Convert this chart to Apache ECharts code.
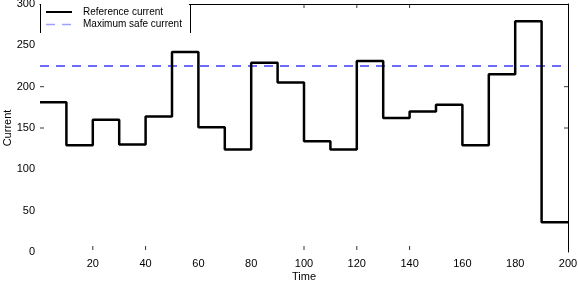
<!DOCTYPE html>
<html>
<head>
<meta charset="utf-8">
<script src="https://cdn.jsdelivr.net/npm/echarts@6/dist/echarts.min.js"></script>
<style>
html,body{margin:0;padding:0;background:#fff;}
#c{width:578px;height:284px;}
</style>
</head>
<body>
<div id="c"></div>
<script>
// Data
var times = [0, 10, 20, 30, 40, 50, 60, 70, 80, 90, 100, 110, 120, 130, 140, 150, 160, 170, 180, 190];
var currents = [181, 129, 160, 130, 164, 242, 151, 124, 229, 205, 134, 124, 231, 162, 170, 178, 129, 215, 279, 36];
var endTime = 200;
var safeCurrent = 225;
var xLabels = [20, 40, 60, 80, 100, 120, 140, 160, 180, 200];
var xTicksBottom = [20, 40, 100, 120, 140];
var xTicksTop = [100, 120, 140];
var yTicks = [150, 200];
var seriesNames = ['Reference current', 'Maximum safe current'];

var refData = times.map(function (t, i) { return [t, currents[i]]; });
refData.push([endTime, currents[currents.length - 1]]);
var safeData = [[0, safeCurrent], [endTime, safeCurrent]];

function tickSeries(points, size, offset) {
  return {
    type: 'scatter', data: points, symbol: 'rect', symbolSize: size, symbolOffset: offset,
    itemStyle: {color: '#000'}, silent: true, clip: false, z: 5, animation: false
  };
}

var font = 'Liberation Sans, Arial, Helvetica, sans-serif';
var chart = echarts.init(document.getElementById('c'), null, {renderer: 'canvas'});
chart.setOption({
  animation: false,
  backgroundColor: '#fff',
  grid: {left: 40, right: 10, top: 4, bottom: 32, containLabel: false, outerBoundsMode: 'none'},
  legend: {
    orient: 'vertical', left: 40, top: 4,
    padding: [3, 7, 4, 5], itemGap: 2.5, itemWidth: 26, itemHeight: 10,
    backgroundColor: '#fff', z: 10,
    itemStyle: {opacity: 0},
    textStyle: {fontFamily: font, fontSize: 10, color: '#000', padding: [0, 0, 0, 6]},
    data: [
      {name: seriesNames[0], lineStyle: {width: 2}},
      {name: seriesNames[1], lineStyle: {color: '#a0a0ff', width: 1.5}}
    ]
  },
  graphic: [
    {type: 'line', shape: {x1: 40.5, y1: 4, x2: 40.5, y2: 33}, style: {stroke: '#000', lineWidth: 1}, z: 20},
    {type: 'line', shape: {x1: 190.5, y1: 4, x2: 190.5, y2: 33}, style: {stroke: '#000', lineWidth: 1}, z: 20}
  ],
  xAxis: [
    {
      type: 'value', min: 0, max: 200, interval: 20, position: 'bottom',
      name: 'Time', nameLocation: 'middle', nameGap: 19, nameMoveOverlap: false,
      nameTextStyle: {fontFamily: font, fontSize: 11, color: '#000'},
      axisLine: {show: false, onZero: false},
      axisTick: {show: false},
      axisLabel: {fontFamily: font, fontSize: 11, color: '#000', margin: 6, customValues: xLabels},
      splitLine: {show: false}
    },
    {
      type: 'value', min: 0, max: 200, interval: 20, position: 'top',
      axisLine: {show: true, onZero: false, lineStyle: {color: '#000', width: 1}},
      axisTick: {show: false},
      axisLabel: {show: false},
      splitLine: {show: false}
    }
  ],
  yAxis: [
    {
      type: 'value', min: 0, max: 300, interval: 50, position: 'left',
      name: 'Current', nameLocation: 'middle', nameGap: 27, nameMoveOverlap: false,
      nameTextStyle: {fontFamily: font, fontSize: 11, color: '#000'},
      axisLine: {show: false, onZero: false},
      axisTick: {show: false},
      axisLabel: {fontFamily: font, fontSize: 11, color: '#000', margin: 5},
      splitLine: {show: false}
    },
    {
      type: 'value', min: 0, max: 300, interval: 50, position: 'right',
      axisLine: {show: true, onZero: false, lineStyle: {color: '#000', width: 1}},
      axisTick: {show: false},
      axisLabel: {show: false},
      splitLine: {show: false}
    }
  ],
  series: [
    {
      name: seriesNames[0], type: 'line', step: 'end', data: refData,
      symbol: 'none', showSymbol: false,
      lineStyle: {color: '#000', width: 2.5}, itemStyle: {color: '#000'}, z: 3
    },
    {
      name: seriesNames[1], type: 'line', data: safeData,
      symbol: 'none', showSymbol: false,
      lineStyle: {color: '#3c3cff', width: 1.5, type: [9, 7]}, itemStyle: {color: '#3c3cff'}, z: 2
    },
    tickSeries(xTicksBottom.map(function (v) { return [v, 0]; }), [1, 4], [0, -4]),
    tickSeries(xTicksTop.map(function (v) { return [v, 300]; }), [1, 4], [0, 2]),
    tickSeries(yTicks.map(function (v) { return [0, v]; }), [4, 1], [2, 0]),
    tickSeries(yTicks.map(function (v) { return [200, v]; }), [4, 1], [-2, 0])
  ]
});
</script>
</body>
</html>
